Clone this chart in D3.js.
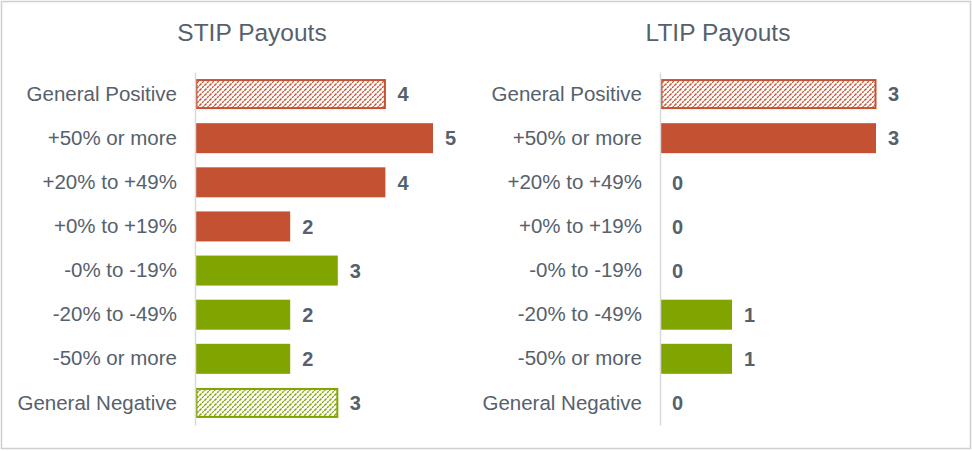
<!DOCTYPE html>
<html><head><meta charset="utf-8">
<script src="https://cdn.jsdelivr.net/npm/d3@7"></script>
<style>
html,body{margin:0;padding:0;background:#fff;}
svg{display:block;font-family:Arial,"Liberation Sans",sans-serif;}
</style></head>
<body>
<svg id="chart" width="972" height="451"></svg>
<script>
const categories = ["General Positive","+50% or more","+20% to +49%","+0% to +19%","-0% to -19%","-20% to -49%","-50% or more","General Negative"];
const seriesType = ["hatchPos","pos","pos","pos","neg","neg","neg","hatchNeg"];
const stipValues = [4,5,4,2,3,2,2,3];
const ltipValues = [3,3,0,0,0,1,1,0];
const titles = ["STIP Payouts","LTIP Payouts"];

const ORANGE = "#C45232", GREEN = "#80A500", TEXT = "#56616C";
const svg = d3.select("#chart");
svg.append("rect").attr("x",1.5).attr("y",1.5).attr("width",969).attr("height",447)
  .attr("fill","#fff").attr("stroke","#cfcfcf").attr("stroke-width",1.5);

const defs = svg.append("defs");
function makePattern(id,color){
  const s = 5;
  const p = defs.append("pattern").attr("id",id).attr("patternUnits","userSpaceOnUse")
    .attr("width",s).attr("height",s);
  p.append("rect").attr("width",s).attr("height",s).attr("fill","#fff");
  p.append("path").attr("d",`M-1,1 l2,-2 M0,${s} l${s},-${s} M${s-1},${s+1} l2,-2`)
    .attr("stroke",color).attr("stroke-width",1.4).attr("stroke-dasharray","2.2,0.8");
}
makePattern("hOrange",ORANGE);
makePattern("hGreen",GREEN);

function fillFor(t){
  if(t==="pos") return ORANGE;
  if(t==="neg") return GREEN;
  if(t==="hatchPos") return "url(#hOrange)";
  return "url(#hGreen)";
}
function strokeFor(t){ return (t==="hatchPos"||t==="pos")?ORANGE:GREEN; }

const y = d3.scaleBand().domain(categories).range([72,425]).paddingInner(0.32).paddingOuter(0.16);

function panel(values,title,x0,x1,maxV,titleX){
  const x = d3.scaleLinear().domain([0,maxV]).range([x0,x1]);
  const g = svg.append("g");
  g.append("text").attr("x",titleX).attr("y",41).attr("text-anchor","middle")
    .attr("font-size",24.5).attr("fill",TEXT).text(title);
  const data = categories.map((c,i)=>({c,v:values[i],t:seriesType[i]}));
  g.selectAll("rect.bar").data(data.filter(d=>d.v>0)).join("rect").attr("class","bar")
    .attr("x",d=>x(0)+(d.t.startsWith("hatch")?1.5:0.5))
    .attr("y",d=>y(d.c)+(d.t.startsWith("hatch")?1:0))
    .attr("width",d=>x(d.v)-x(0)-(d.t.startsWith("hatch")?2:0.5))
    .attr("height",d=>y.bandwidth()-(d.t.startsWith("hatch")?2:0))
    .attr("fill",d=>fillFor(d.t))
    .attr("stroke",d=>d.t.startsWith("hatch")?strokeFor(d.t):"none")
    .attr("stroke-width",2);
  const axis = d3.axisLeft(y).tickSize(0).tickPadding(18);
  const ag = g.append("g").attr("transform",`translate(${x(0)},0)`).call(axis);
  ag.select(".domain").attr("stroke","#d9d9d9").attr("stroke-width",1.5);
  ag.selectAll("text").attr("font-size",20.5).attr("fill",TEXT).attr("font-family","Arial,'Liberation Sans',sans-serif");
  g.selectAll("text.val").data(data).join("text").attr("class","val")
    .attr("x",d=>x(d.v)+12).attr("y",d=>y(d.c)+y.bandwidth()/2).attr("dy","0.36em")
    .attr("font-size",20).attr("font-weight","bold").attr("fill",TEXT).text(d=>d.v);
}
panel(stipValues,titles[0],195,433,5,252);
panel(ltipValues,titles[1],660,876,3,718);
</script>
</body></html>
